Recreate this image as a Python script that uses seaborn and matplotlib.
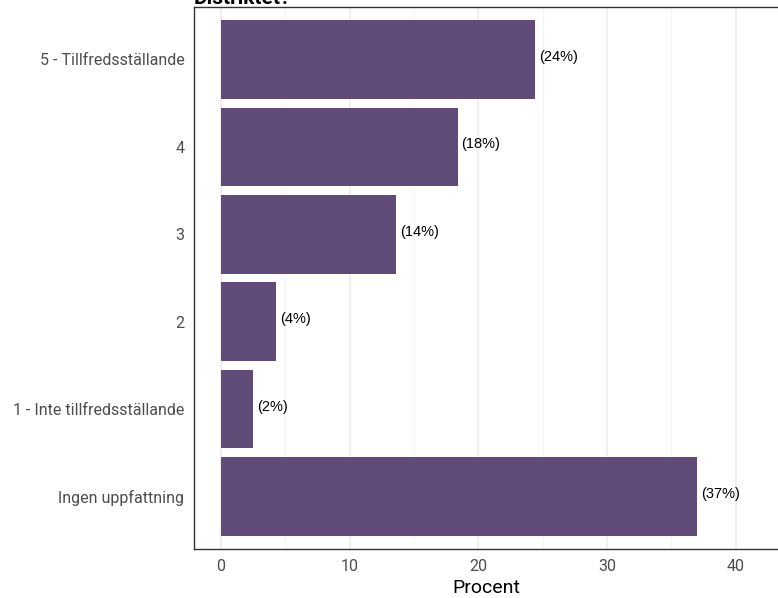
import pandas as pd
import matplotlib.pyplot as plt
import seaborn as sns

# data
kategorier = ['5 - Tillfredsställande', '4', '3', '2',
              '1 - Inte tillfredsställande', 'Ingen uppfattning']
procent = [24.4, 18.4, 13.6, 4.3, 2.5, 37.0]
etiketter = ['(24%)', '(18%)', '(14%)', '(4%)', '(2%)', '(37%)']
xticks = [0, 10, 20, 30, 40]

df = pd.DataFrame({'kategori': kategorier, 'procent': procent})

sns.set_style('white')
plt.rcParams['font.family'] = ['Roboto', 'DejaVu Sans']

fig = plt.figure(figsize=(7.78, 5.98), dpi=100)
ax = fig.add_axes([0.2494, 0.0819, 0.7506, 0.9064])

sns.barplot(data=df, x='procent', y='kategori', orient='h', color='#614C79',
            saturation=1, width=0.9, linewidth=0, ax=ax, zorder=3)

for y, (v, t) in enumerate(zip(procent, etiketter)):
    ax.text(v + 0.3, y - 0.03, t, va='center', ha='left', fontsize=10.5,
            family='Liberation Sans', color='black', zorder=4)

ax.set_xlim(-2.1, 43.3)
ax.set_ylim(5.6, -0.6)
ax.set_xticks(xticks)
ax.set_xticks([5, 15, 25, 35], minor=True)
ax.grid(axis='x', which='major', color='#EBEBEB', linewidth=1.1, zorder=0)
ax.grid(axis='x', which='minor', color='#F2F2F2', linewidth=0.6, zorder=0)
ax.set_axisbelow(True)

for s in ['left', 'bottom', 'top']:
    ax.spines[s].set_color('#333333')
    ax.spines[s].set_linewidth(1.0)
ax.spines['right'].set_visible(False)

ax.tick_params(axis='both', which='major', length=4, width=1, color='#333333',
               labelcolor='#4D4D4D', labelsize=11.5, pad=3)
ax.tick_params(axis='x', which='minor', length=0)
ax.set_xlabel('Procent', fontsize=14, color='black', labelpad=4)
ax.set_ylabel('')

fig.text(0.2494, 1 - 4 / 598, 'Distriktet?', fontsize=15, fontweight='bold',
         va='baseline', ha='left', color='black')

fig.savefig('out.png', dpi=100)
